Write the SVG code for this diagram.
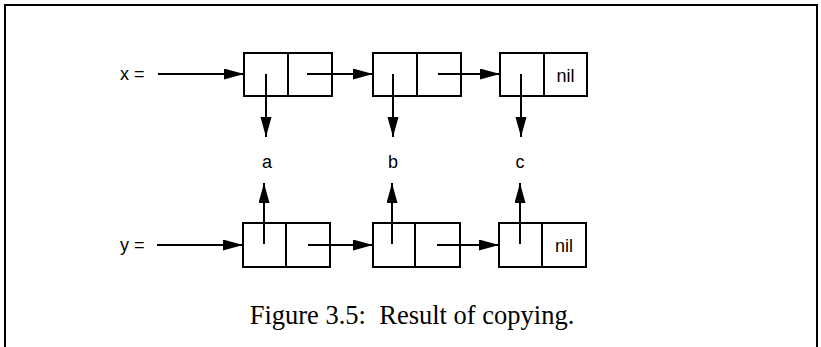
<svg xmlns="http://www.w3.org/2000/svg" width="821" height="347" viewBox="0 0 821 347">
<defs>
<marker id="ah" markerUnits="userSpaceOnUse" markerWidth="21" markerHeight="12" refX="20" refY="5.5" orient="auto">
<path d="M0,0 L20,5.5 L0,11 z" fill="#000"/>
</marker>
</defs>
<style>
.box{fill:#fff;stroke:#000;stroke-width:2}
.ln{fill:none;stroke:#000;stroke-width:2}
.ar{fill:none;stroke:#000;stroke-width:2;marker-end:url(#ah)}
.t{font-family:"Liberation Sans",Arial,sans-serif;font-size:18px;fill:#000}
.cap{font-family:"Liberation Serif","Times New Roman",serif;font-size:26.5px;fill:#000}
</style>
<rect width="821" height="347" fill="#fff"/>
<path class="ln" d="M5,360 V5 H817 V360"/>

<text class="t" x="120" y="80">x =</text>
<text class="t" x="120" y="251">y =</text>

<g id="x1"><rect class="box" x="244" y="53" width="88" height="43"/><line class="ln" x1="288" y1="53" x2="288" y2="96"/></g>
<g id="x2"><rect class="box" x="373" y="53" width="88" height="43"/><line class="ln" x1="417" y1="53" x2="417" y2="96"/></g>
<g id="x3"><rect class="box" x="500" y="53" width="87" height="43"/><line class="ln" x1="544" y1="53" x2="544" y2="96"/><text class="t" x="565.5" y="82" text-anchor="middle">nil</text></g>

<g id="y1"><rect class="box" x="243" y="223" width="87" height="44"/><line class="ln" x1="286" y1="223" x2="286" y2="267"/></g>
<g id="y2"><rect class="box" x="373" y="223" width="87" height="44"/><line class="ln" x1="415" y1="223" x2="415" y2="267"/></g>
<g id="y3"><rect class="box" x="499" y="223" width="87" height="44"/><line class="ln" x1="542" y1="223" x2="542" y2="267"/><text class="t" x="564" y="252" text-anchor="middle">nil</text></g>

<g id="a"><text class="t" x="267" y="168" text-anchor="middle">a</text></g>
<g id="b"><text class="t" x="393" y="168" text-anchor="middle">b</text></g>
<g id="c"><text class="t" x="520" y="168" text-anchor="middle">c</text></g>

<g id="connectors">
<line class="ar" x1="158" y1="74" x2="244" y2="74"/>
<line class="ar" x1="307" y1="74" x2="373" y2="74"/>
<line class="ar" x1="438" y1="74" x2="500" y2="74"/>
<line class="ar" x1="266" y1="74" x2="266" y2="137"/>
<line class="ar" x1="393" y1="74" x2="393" y2="137"/>
<line class="ar" x1="521" y1="74" x2="521" y2="137"/>

<line class="ar" x1="157" y1="245" x2="243" y2="245"/>
<line class="ar" x1="308" y1="245" x2="373" y2="245"/>
<line class="ar" x1="437" y1="245" x2="499" y2="245"/>
<line class="ar" x1="264" y1="244" x2="264" y2="183"/>
<line class="ar" x1="392" y1="244" x2="392" y2="183"/>
<line class="ar" x1="520" y1="244" x2="520" y2="183"/>
</g>

<text class="cap" x="412" y="324" text-anchor="middle">Figure 3.5:&#160; Result of copying.</text>
</svg>
